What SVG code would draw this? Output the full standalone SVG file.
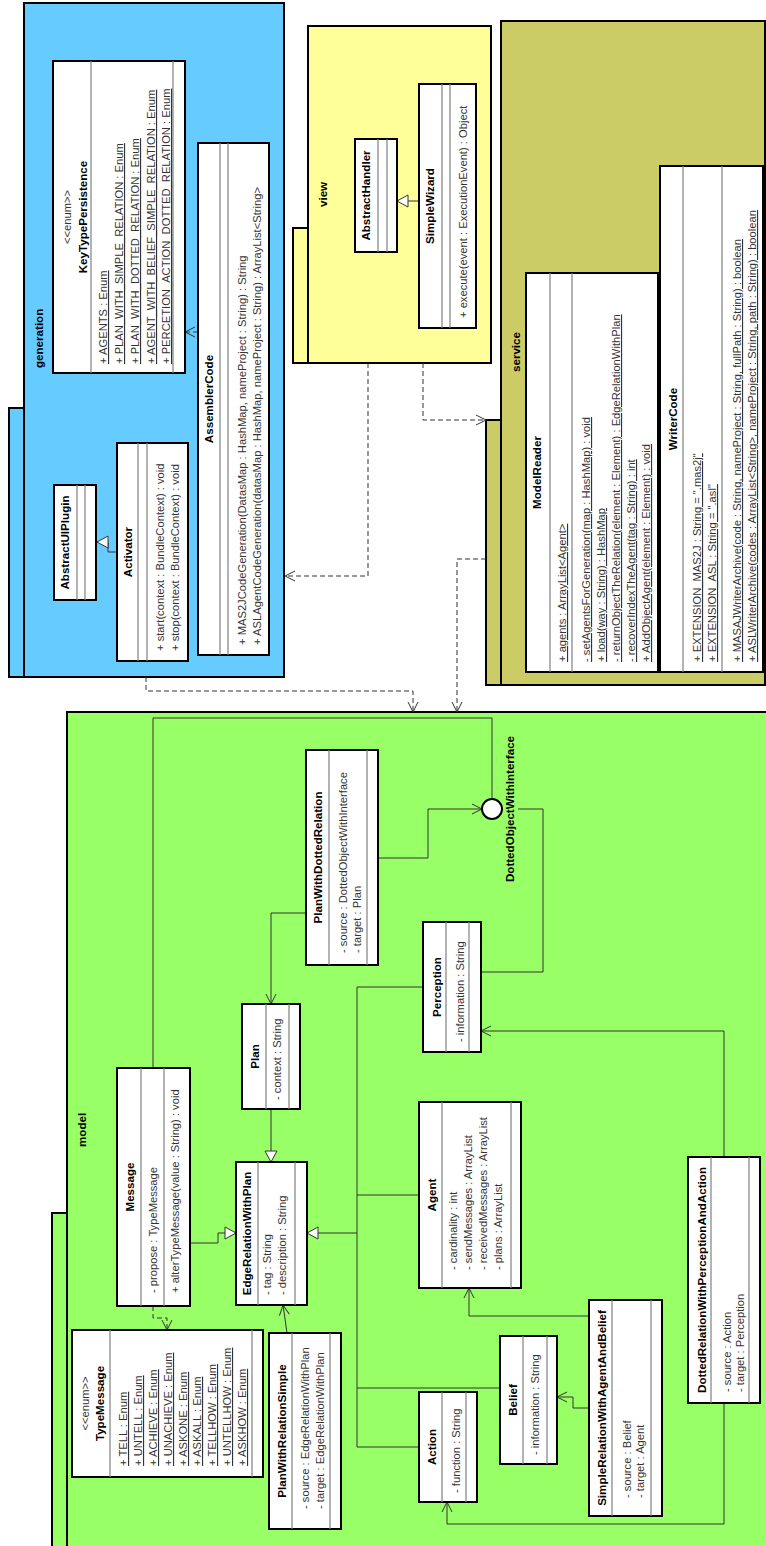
<svg xmlns="http://www.w3.org/2000/svg" width="766" height="1546" viewBox="0 0 766 1546">
<style>
text{font-family:"Liberation Sans",Arial,sans-serif;font-size:11.2px}
.pkgb{stroke:#000;stroke-width:2}
.cls{fill:#fff;stroke:#000;stroke-width:2}
.sep{stroke:#808080;stroke-width:1.2}
.n{font-weight:bold;text-anchor:middle;fill:#000;font-size:11.6px}
.st{text-anchor:middle;fill:#333}
.a{fill:#333}
.u{text-decoration:underline}
.pl{font-weight:bold;fill:#000;font-size:11.6px}
.c{fill:none;stroke:#333;stroke-width:1}
.d{stroke-dasharray:5,3}
.oa{marker-end:url(#open)}
.ga{marker-end:url(#tri)}
</style>
<defs>
<marker id="open" markerUnits="userSpaceOnUse" markerWidth="12" markerHeight="12" refX="10" refY="5" orient="auto" overflow="visible"><path d="M0,0 L10,5 L0,10" fill="none" stroke="#333" stroke-width="1"/></marker>
<marker id="tri" markerUnits="userSpaceOnUse" markerWidth="13" markerHeight="13" refX="11" refY="6" orient="auto" overflow="visible"><path d="M0,0 L11,6 L0,12 Z" fill="#fff" stroke="#333" stroke-width="1"/></marker>
</defs>
<rect x="0" y="0" width="766" height="1546" fill="#fff"/>
<g transform="translate(0,1546) rotate(-90)">
<!-- packages -->
<g id="pkg-generation">
<rect class="pkgb" x="869" y="9" width="269" height="15" fill="#66CCFF"/>
<rect class="pkgb" x="869" y="24" width="674" height="260" fill="#66CCFF"/>
<text class="pl" x="1178" y="43">generation</text>
</g>
<g id="pkg-view">
<rect class="pkgb" x="1183" y="293" width="135" height="15" fill="#FFFF99"/>
<rect class="pkgb" x="1183" y="308" width="337" height="183" fill="#FFFF99"/>
<text class="pl" x="1339" y="327">view</text>
</g>
<g id="pkg-service">
<rect class="pkgb" x="861" y="486" width="265" height="15" fill="#CCCC66"/>
<rect class="pkgb" x="861" y="501" width="664" height="264" fill="#CCCC66"/>
<text class="pl" x="1174" y="520">service</text>
</g>
<g id="pkg-model">
<rect class="pkgb" x="-5" y="52" width="338" height="15" fill="#99FF66"/>
<rect class="pkgb" x="-5" y="67" width="839" height="710" fill="#99FF66"/>
<text class="pl" x="399" y="86">model</text>
</g>
<!-- connectors -->
<g id="connectors">
<path class="c ga" d="M994,117 V108 H1004 V97"/>
<path class="c ga" d="M1345,419 V397"/>
<path class="c d oa" d="M1214,198 V185"/>
<path class="c oa" d="M633,306 V271 H542"/>
<path class="c oa" d="M688,378 V428 H737 V482"/>
<path class="c" d="M747,492 H828 V153 H478"/>
<path class="c" d="M737,518 V543 H574 V481"/>
<path class="c" d="M559,357 H99"/>
<path class="c" d="M559,357 V423 M351,357 V419 M158,357 V500 M99,357 V419"/>
<path class="c ga" d="M313,357 V307"/>
<path class="c ga" d="M437,271 H384"/>
<path class="c ga" d="M303,190 V218 H313 V236"/>
<path class="c oa" d="M213,287 L241,283"/>
<path class="c d oa" d="M240,153 H228 V167 H216"/>
<path class="c oa" d="M230,589 V469 H258"/>
<path class="c oa" d="M138,589 V573 H149 V557"/>
<path class="c oa" d="M389,724 H515 V481"/>
<path class="c oa" d="M143,724 H22 V447 H44"/>
<path class="c d oa" d="M869,146 H855 V413 H834"/>
<path class="c d oa" d="M987,486 V457 H834"/>
<path class="c d oa" d="M1183,368 H970 V285"/>
<path class="c d oa" d="M1183,423 H1126 V486"/>
</g>
<!-- generation classes -->
<g id="KeyTypePersistence">
<rect class="cls" x="1173" y="53" width="312" height="132"/>
<path class="sep" d="M1173,91 H1485 M1173,173 H1485"/>
<text class="st" x="1329" y="71">&lt;&lt;enum&gt;&gt;</text>
<text class="n" x="1329" y="87">KeyTypePersistence</text>
<text class="a u" x="1182" y="107">+ AGENTS : Enum</text>
<text class="a u" x="1182" y="123">+ PLAN_WITH_SIMPLE_RELATION : Enum</text>
<text class="a u" x="1182" y="139">+ PLAN_WITH_DOTTED_RELATION : Enum</text>
<text class="a u" x="1182" y="155">+ AGENT_WITH_BELIEF_SIMPLE_RELATION : Enum</text>
<text class="a u" x="1182" y="170">+ PERCETION_ACTION_DOTTED_RELATION : Enum</text>
</g>
<g id="AbstractUIPlugin">
<rect class="cls" x="946" y="54" width="115" height="42"/>
<path class="sep" d="M946,77 H1061 M946,85 H1061"/>
<text class="n" x="1003.5" y="69">AbstractUIPlugin</text>
</g>
<g id="Activator">
<rect class="cls" x="885" y="117" width="218" height="71"/>
<path class="sep" d="M885,138 H1103 M885,147 H1103"/>
<text class="n" x="994" y="132">Activator</text>
<text class="a" x="895" y="164">+ start(context : BundleContext) : void</text>
<text class="a" x="895" y="179">+ stop(context : BundleContext) : void</text>
</g>
<g id="AssemblerCode">
<rect class="cls" x="891" y="198" width="512" height="71"/>
<path class="sep" d="M891,220 H1403 M891,228 H1403"/>
<text class="n" x="1147" y="213">AssemblerCode</text>
<text class="a" x="901" y="246">+ MAS2JCodeGeneration(DatasMap : HashMap, nameProject : String) : String</text>
<text class="a" x="901" y="261">+ ASLAgentCodeGeneration(datasMap : HashMap, nameProject : String) : ArrayList&lt;String&gt;</text>
</g>
<!-- view classes -->
<g id="AbstractHandler">
<rect class="cls" x="1294" y="355" width="113" height="42"/>
<path class="sep" d="M1294,378 H1407 M1294,387 H1407"/>
<text class="n" x="1350.5" y="370">AbstractHandler</text>
</g>
<g id="SimpleWizard">
<rect class="cls" x="1218" y="419" width="244" height="57"/>
<path class="sep" d="M1218,442 H1462 M1218,450 H1462"/>
<text class="n" x="1340" y="434">SimpleWizard</text>
<text class="a" x="1228" y="467">+ execute(event : ExecutionEvent) : Object</text>
</g>
<!-- service classes -->
<g id="ModelReader">
<rect class="cls" x="874" y="526" width="399" height="132"/>
<path class="sep" d="M874,550 H1273 M874,572 H1273"/>
<text class="n" x="1073.5" y="541">ModelReader</text>
<text class="a u" x="884" y="566">+ agents : ArrayList&lt;Agent&gt;</text>
<text class="a u" x="884" y="590">- setAgentsForGeneration(map : HashMap) : void</text>
<text class="a u" x="884" y="605">+ load(way : String) : HashMap</text>
<text class="a u" x="884" y="620">- returnObjectTheRelation(element : Element) : EdgeRelationWithPlan</text>
<text class="a u" x="884" y="635">- recoverIndexTheAgent(tag : String) : int</text>
<text class="a u" x="884" y="650">+ AddObjectAgent(element : Element) : void</text>
</g>
<g id="WriterCode">
<rect class="cls" x="874" y="660" width="506" height="103"/>
<path class="sep" d="M874,683 H1380 M874,722 H1380"/>
<text class="n" x="1127" y="677">WriterCode</text>
<text class="a u" x="884" y="701">+ EXTENSION_MAS2J : String = ".mas2j"</text>
<text class="a u" x="884" y="716">+ EXTENSION_ASL : String = ".asl"</text>
<text class="a u" x="884" y="741">+ MASAJWriterArchive(code : String, nameProject : String, fullPath : String) : boolean</text>
<text class="a u" x="884" y="756">+ ASLWriterArchive(codes : ArrayList&lt;String&gt;, nameProject : String, path : String) : boolean</text>
</g>
<!-- model classes -->
<g id="Message">
<rect class="cls" x="240" y="117" width="238" height="73"/>
<path class="sep" d="M240,141 H478 M240,164 H478"/>
<text class="n" x="359" y="134">Message</text>
<text class="a" x="253" y="157">- propose : TypeMessage</text>
<text class="a" x="253" y="179">+ alterTypeMessage(value : String) : void</text>
</g>
<g id="TypeMessage">
<rect class="cls" x="69" y="72" width="147" height="191"/>
<path class="sep" d="M69,110 H216 M69,252 H216"/>
<text class="st" x="142.5" y="89">&lt;&lt;enum&gt;&gt;</text>
<text class="n" x="142.5" y="104">TypeMessage</text>
<text class="a u" x="80" y="127">+ TELL : Enum</text>
<text class="a u" x="80" y="142">+ UNTELL : Enum</text>
<text class="a u" x="80" y="157">+ ACHIEVE : Enum</text>
<text class="a u" x="80" y="172">+ UNACHIEVE : Enum</text>
<text class="a u" x="80" y="187">+ ASKONE : Enum</text>
<text class="a u" x="80" y="201">+ ASKALL : Enum</text>
<text class="a u" x="80" y="216">+ TELLHOW : Enum</text>
<text class="a u" x="80" y="231">+ UNTELLHOW : Enum</text>
<text class="a u" x="80" y="246">+ ASKHOW : Enum</text>
</g>
<g id="EdgeRelationWithPlan">
<rect class="cls" x="241" y="236" width="143" height="71"/>
<path class="sep" d="M241,258 H384 M241,295 H384"/>
<text class="n" x="312.5" y="251">EdgeRelationWithPlan</text>
<text class="a" x="251" y="271">- tag : String</text>
<text class="a" x="251" y="286">- description : String</text>
</g>
<g id="Plan">
<rect class="cls" x="437" y="242" width="105" height="58"/>
<path class="sep" d="M437,266 H542 M437,289 H542"/>
<text class="n" x="489.5" y="259">Plan</text>
<text class="a" x="446" y="281">- context : String</text>
</g>
<g id="PlanWithDottedRelation">
<rect class="cls" x="581" y="306" width="215" height="72"/>
<path class="sep" d="M581,329 H796 M581,367 H796"/>
<text class="n" x="688.5" y="322">PlanWithDottedRelation</text>
<text class="a" x="593" y="347">- source : DottedObjectWithInterface</text>
<text class="a" x="593" y="361">- target : Plan</text>
</g>
<g id="DottedObjectWithInterface">
<circle cx="737" cy="492" r="10" fill="#fff" stroke="#000" stroke-width="2"/>
<text class="n" x="737" y="514">DottedObjectWithInterface</text>
</g>
<g id="Perception">
<rect class="cls" x="494" y="423" width="130" height="58"/>
<path class="sep" d="M494,446 H624 M494,469 H624"/>
<text class="n" x="559" y="441">Perception</text>
<text class="a" x="504" y="464">- information : String</text>
</g>
<g id="Agent">
<rect class="cls" x="258" y="419" width="186" height="102"/>
<path class="sep" d="M258,442 H444 M258,511 H444"/>
<text class="n" x="351" y="436">Agent</text>
<text class="a" x="276" y="457">- cardinality : int</text>
<text class="a" x="276" y="472">- sendMessages : ArrayList</text>
<text class="a" x="276" y="487">- receivedMessages : ArrayList</text>
<text class="a" x="276" y="502">- plans : ArrayList</text>
</g>
<g id="Action">
<rect class="cls" x="44" y="419" width="110" height="58"/>
<path class="sep" d="M44,442 H154 M44,466 H154"/>
<text class="n" x="99" y="436">Action</text>
<text class="a" x="53" y="460">- function : String</text>
</g>
<g id="Belief">
<rect class="cls" x="82" y="500" width="128" height="57"/>
<path class="sep" d="M82,523 H210 M82,547 H210"/>
<text class="n" x="146" y="517">Belief</text>
<text class="a" x="91" y="539">- information : String</text>
</g>
<g id="SimpleRelationWithAgentAndBelief">
<rect class="cls" x="30" y="589" width="216" height="73"/>
<path class="sep" d="M30,612 H246 M30,651 H246"/>
<text class="n" x="138" y="606">SimpleRelationWithAgentAndBelief</text>
<text class="a" x="48" y="631">- source : Belief</text>
<text class="a" x="48" y="644">- target : Agent</text>
</g>
<g id="DottedRelationWithPerceptionAndAction">
<rect class="cls" x="143" y="688" width="246" height="72"/>
<path class="sep" d="M143,711 H389 M143,749 H389"/>
<text class="n" x="266" y="706">DottedRelationWithPerceptionAndAction</text>
<text class="a" x="154" y="731">- source : Action</text>
<text class="a" x="154" y="744">- target : Perception</text>
</g>
<g id="PlanWithRelationSimple">
<rect class="cls" x="17" y="269" width="196" height="72"/>
<path class="sep" d="M17,292 H213 M17,330 H213"/>
<text class="n" x="115" y="286">PlanWithRelationSimple</text>
<text class="a" x="37" y="309">- source : EdgeRelationWithPlan</text>
<text class="a" x="37" y="324">- target : EdgeRelationWithPlan</text>
</g>
</g>
</svg>
